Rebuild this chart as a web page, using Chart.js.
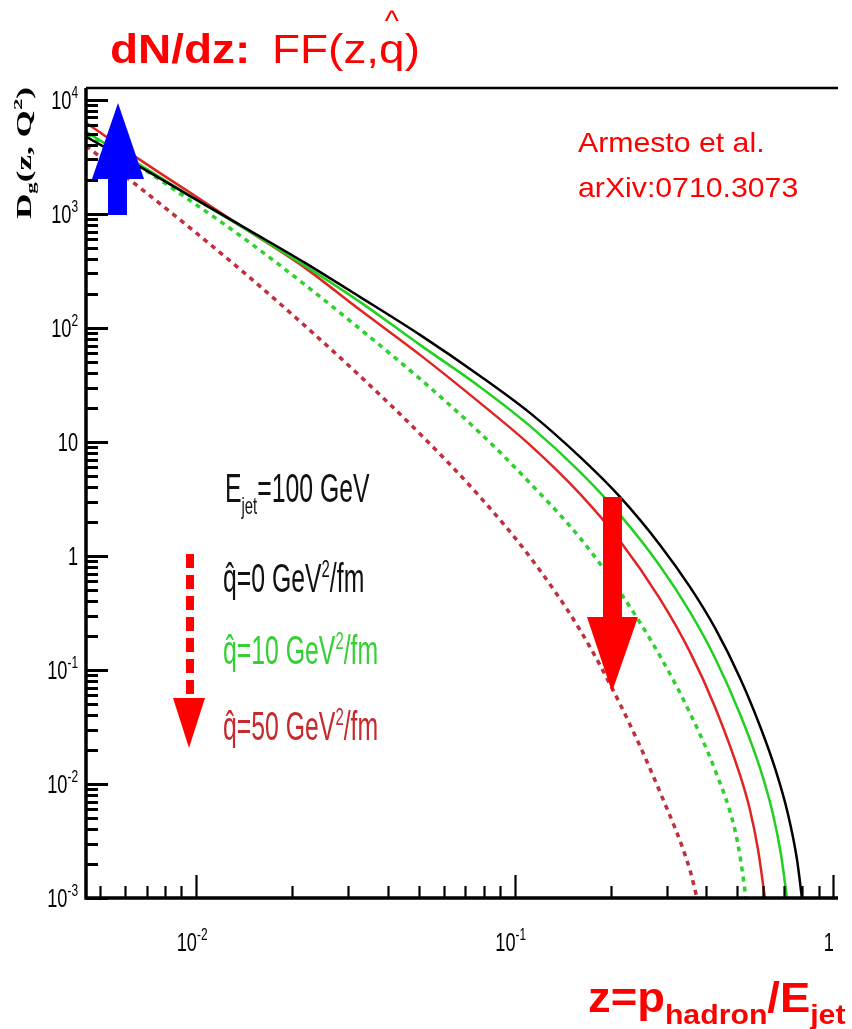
<!DOCTYPE html>
<html>
<head>
<meta charset="utf-8">
<script src="https://cdn.jsdelivr.net/npm/chart.js@4/dist/chart.umd.min.js"></script>
<style>
  html, body { margin: 0; padding: 0; background: #fff; }
  #wrap { width: 852px; height: 1029px; position: relative; }
</style>
</head>
<body>
<div id="wrap"><canvas id="ffChart" width="852" height="1029"></canvas></div>
<script>
// Gluon fragmentation function D_g(z,Q^2), E_jet = 100 GeV, vacuum vs. medium
const zBlack = [0.00452, 0.00668, 0.00993, 0.0148, 0.0220, 0.0327, 0.0505, 0.0779, 0.1117, 0.1604, 0.2142, 0.2859, 0.3550, 0.4255, 0.5097, 0.5888, 0.6561, 0.7208, 0.7691, 0.7975];
const dBlack = [4736, 2584, 1354, 709.6, 371.7, 187.0, 86.8, 37.9, 17.97, 7.386, 3.293, 1.249, 0.5348, 0.2336, 0.08506, 0.03228, 0.01382, 0.005455, 0.002198, 0.001];

const zGreen = [0.00452, 0.00668, 0.00993, 0.0148, 0.0220, 0.0327, 0.0505, 0.0779, 0.1117, 0.1604, 0.2142, 0.2859, 0.3550, 0.4255, 0.5097, 0.5888, 0.6466, 0.6850, 0.7157];
const dGreen = [5240, 2690, 1354, 695, 349.9, 169.1, 70.94, 30.37, 13.81, 5.455, 2.289, 0.8171, 0.3228, 0.1274, 0.04111, 0.01382, 0.005455, 0.002432, 0.001];

const zRed = [0.00452, 0.00668, 0.00993, 0.0148, 0.0220, 0.0327, 0.0505, 0.0779, 0.1117, 0.1604, 0.2142, 0.2859, 0.3550, 0.4255, 0.5097, 0.5479, 0.5803, 0.6104];
const dRed = [6285, 2977, 1439, 695, 336, 143.9, 57.98, 21.98, 9.413, 3.499, 1.354, 0.4196, 0.1439, 0.04735, 0.01200, 0.005913, 0.00269, 0.001];

const zGreenDash = [0.00452, 0.00668, 0.00993, 0.0148, 0.0220, 0.0327, 0.0505, 0.0779, 0.1117, 0.1604, 0.2142, 0.2859, 0.3550, 0.4255, 0.4915, 0.5133, 0.5321];
const dGreenDash = [4932, 2584, 1224, 556.6, 238.4, 97.99, 35.69, 11.99, 4.369, 1.439, 0.4832, 0.1327, 0.04196, 0.01327, 0.003949, 0.002069, 0.001];

const zRedDash = [0.00452, 0.00668, 0.00993, 0.0148, 0.0220, 0.0327, 0.0505, 0.0779, 0.1117, 0.1604, 0.2142, 0.2859, 0.3550, 0.3736];
const dRedDash = [3950, 1691, 695, 274.5, 104.1, 37.9, 11.76, 3.293, 0.9799, 0.2244, 0.05031, 0.008506, 0.00176, 0.001];

// axis decorations
const yMajor = [1e4, 1e3, 1e2, 10, 1, 0.1, 0.01, 0.001];
const yLabelBase = ['10', '10', '10', '10', '1', '10', '10', '10'];
const yLabelExp = ['4', '3', '2', '', '', '-1', '-2', '-3'];
const xMajor = [0.01, 0.1, 1];
const xLabelBase = ['10', '10', '1'];
const xLabelExp = ['-2', '-1', ''];
const minorSteps = [2, 3, 4, 5, 6, 7, 8, 9];

const legendLines = [
  { q: '0', color: '#111111', y: 592 },
  { q: '10', color: '#35d035', y: 664 },
  { q: '50', color: '#c62a2a', y: 740 }
];

const SANS = '"Liberation Sans", Arial, sans-serif';

function toPoints(zs, ds) {
  return zs.map((z, i) => ({ x: z, y: ds[i] }));
}

// draws a run of text pieces [text, size, dy, bold] squeezed horizontally by sx
function richText(ctx, pieces, x, y, sx, color, family) {
  ctx.save();
  ctx.translate(x, y);
  ctx.scale(sx, 1);
  ctx.fillStyle = color;
  ctx.textBaseline = 'alphabetic';
  ctx.textAlign = 'left';
  let cx = 0;
  pieces.forEach(p => {
    ctx.font = (p[3] ? 'bold ' : '') + p[1] + 'px ' + (family || SANS);
    ctx.fillText(p[0], cx, p[2]);
    cx += ctx.measureText(p[0]).width;
  });
  ctx.restore();
  return cx * sx;
}

function richWidth(ctx, pieces, sx, family) {
  let w = 0;
  pieces.forEach(p => {
    ctx.font = (p[3] ? 'bold ' : '') + p[1] + 'px ' + (family || SANS);
    w += ctx.measureText(p[0]).width;
  });
  return w * sx;
}

function qHat(ctx, x, y, size, sx, color) {
  // q with a circumflex set above it
  ctx.save();
  ctx.translate(x, y);
  ctx.scale(sx, 1);
  ctx.fillStyle = color;
  ctx.font = size + 'px ' + SANS;
  const w = ctx.measureText('q').width;
  ctx.fillText('q', 0, 0);
  ctx.textAlign = 'center';
  ctx.fillText('\u02C6', w / 2, 0);
  ctx.restore();
  return w * sx;
}

const framePlugin = {
  id: 'rootFrame',
  afterDatasetsDraw(chart) {
    const ctx = chart.ctx;
    const xs = chart.scales.x, ys = chart.scales.y;
    const a = chart.chartArea;
    ctx.save();
    ctx.strokeStyle = '#000';

    // inward ticks on the left axis
    ctx.lineWidth = 3;
    for (let d = -3; d <= 4; d++) {
      const base = Math.pow(10, d);
      [1].concat(minorSteps).forEach(k => {
        const v = base * k;
        if (v < ys.min || v > ys.max) return;
        const py = Math.round(ys.getPixelForValue(v)) + 0.5;
        const len = k === 1 ? 22 : 12;
        ctx.beginPath();
        ctx.moveTo(a.left, py);
        ctx.lineTo(a.left + len, py);
        ctx.stroke();
      });
    }
    // inward ticks on the bottom axis
    ctx.lineWidth = 2.2;
    for (let d = -3; d <= 0; d++) {
      const base = Math.pow(10, d);
      [1].concat(minorSteps).forEach(k => {
        const v = base * k;
        if (v < xs.min || v > xs.max) return;
        const px = Math.round(xs.getPixelForValue(v)) + 0.5;
        const len = k === 1 ? 23 : 12;
        ctx.beginPath();
        ctx.moveTo(px, a.bottom);
        ctx.lineTo(px, a.bottom - len);
        ctx.stroke();
      });
    }

    // frame: left, bottom and top edges
    ctx.lineWidth = 2.5;
    ctx.beginPath();
    ctx.moveTo(a.left, a.top);
    ctx.lineTo(a.right + 2, a.top);
    ctx.stroke();
    ctx.lineWidth = 3.5;
    ctx.beginPath();
    ctx.moveTo(a.left, a.top);
    ctx.lineTo(a.left, a.bottom);
    ctx.lineTo(a.right + 2, a.bottom);
    ctx.stroke();
    ctx.restore();

    // tick labels
    const sx = 0.7;
    yMajor.forEach((v, i) => {
      const py = ys.getPixelForValue(v);
      const pieces = [[yLabelBase[i], 26, 0, false]];
      if (yLabelExp[i]) pieces.push([yLabelExp[i], 17, -11, false]);
      const w = richWidth(ctx, pieces, sx);
      richText(ctx, pieces, 78 - w, py + 9, sx, '#000');
    });
    xMajor.forEach((v, i) => {
      const px = xs.getPixelForValue(v);
      const pieces = [[xLabelBase[i], 26, 0, false]];
      if (xLabelExp[i]) pieces.push([xLabelExp[i], 17, -11, false]);
      const wb = richWidth(ctx, [pieces[0]], sx);
      richText(ctx, pieces, px - wb * 0.95, 951, sx, '#000');
    });

    // y axis title, rotated
    ctx.save();
    ctx.translate(31, 219);
    ctx.rotate(-Math.PI / 2);
    const titleSerif = '"Liberation Serif", "Times New Roman", serif';
    const yt = [['D', 20, 0, true], ['g', 13, 4, true], ['(z, Q', 20, 0, true], ['2', 13, -9, true], [')', 20, 0, true]];
    const natural = richWidth(ctx, yt, 1, titleSerif);
    richText(ctx, yt, 0, 0, 132 / natural, '#000', titleSerif);
    ctx.restore();
  },
  afterDraw(chart) {
    const ctx = chart.ctx;
    ctx.save();

    // heading
    richText(ctx, [['dN/dz:', 41, 0, true]], 110, 63, 1.12, '#ff0000');
    const fx = 272;
    const w = richText(ctx, [['FF(z,', 41, 0, false]], fx, 63, 1.12, '#ff0000');
    const qw = richText(ctx, [['q', 41, 0, false]], fx + w, 63, 1.12, '#ff0000');
    richText(ctx, [[')', 41, 0, false]], fx + w + qw, 63, 1.12, '#ff0000');
    ctx.fillStyle = '#ff0000';
    ctx.font = '30px ' + SANS;
    ctx.textAlign = 'center';
    ctx.fillText('^', fx + w + qw / 2, 31);
    ctx.textAlign = 'left';

    // reference
    richText(ctx, [['Armesto et al.', 28, 0, false]], 578, 152, 1.08, '#ff0000');
    richText(ctx, [['arXiv:0710.3073', 28, 0, false]], 578, 197, 1.08, '#ff0000');

    // legend text
    const lsx = 0.62;
    richText(ctx, [['E', 40, 0, false], ['jet', 24, 12, false], ['=100 GeV', 40, 0, false]], 225, 502, lsx, '#111111');
    legendLines.forEach(l => {
      const hw = qHat(ctx, 223, l.y, 40, lsx, l.color);
      richText(ctx, [['=' + l.q + ' GeV', 40, 0, false], ['2', 24, -15, false], ['/fm', 40, 0, false]], 223 + hw, l.y, lsx, l.color);
    });

    // x axis caption
    let bx = 588;
    bx += richText(ctx, [['z=p', 42, 0, true]], bx, 1012, 1.08, '#ff0000');
    bx += richText(ctx, [['hadron', 28, 12, true]], bx, 1012, 1.08, '#ff0000');
    bx += richText(ctx, [['/E', 42, 0, true]], bx, 1012, 1.08, '#ff0000');
    richText(ctx, [['jet', 28, 12, true]], bx, 1012, 1.08, '#ff0000');

    // blue arrow near the start of the curves
    ctx.fillStyle = '#0000ff';
    ctx.fillRect(108, 178, 19, 37);
    ctx.beginPath();
    ctx.moveTo(92, 179);
    ctx.lineTo(144, 179);
    ctx.lineTo(118, 103);
    ctx.closePath();
    ctx.fill();

    // red arrow across the high-z curves
    ctx.fillStyle = '#ff0000';
    ctx.fillRect(603, 497, 19, 121);
    ctx.beginPath();
    ctx.moveTo(587, 617);
    ctx.lineTo(638, 617);
    ctx.lineTo(612, 692);
    ctx.closePath();
    ctx.fill();

    // dashed arrow beside the legend
    for (let y = 554; y < 696; y += 21) {
      ctx.fillRect(186, y, 8, Math.min(14, 698 - y));
    }
    ctx.beginPath();
    ctx.moveTo(173, 698);
    ctx.lineTo(205, 698);
    ctx.lineTo(189, 748);
    ctx.closePath();
    ctx.fill();

    ctx.restore();
  }
};

new Chart(document.getElementById('ffChart').getContext('2d'), {
  type: 'line',
  data: {
    datasets: [
      { label: 'q=50 dashed', data: toPoints(zRedDash, dRedDash), borderColor: '#bf2f3c', borderWidth: 3.5, borderDash: [5, 5], order: 5 },
      { label: 'q=10 dashed', data: toPoints(zGreenDash, dGreenDash), borderColor: '#2fd12f', borderWidth: 3.5, borderDash: [5, 5], order: 4 },
      { label: 'q=50', data: toPoints(zRed, dRed), borderColor: '#e02424', borderWidth: 2.5, order: 3 },
      { label: 'q=10', data: toPoints(zGreen, dGreen), borderColor: '#22d022', borderWidth: 2.5, order: 2 },
      { label: 'q=0', data: toPoints(zBlack, dBlack), borderColor: '#000000', borderWidth: 2.5, order: 1 }
    ]
  },
  options: {
    responsive: false,
    animation: false,
    layout: { padding: { left: 86, right: 16, top: 88, bottom: 131 } },
    plugins: { legend: { display: false }, tooltip: { enabled: false } },
    elements: {
      point: { radius: 0 },
      line: { cubicInterpolationMode: 'monotone', fill: false }
    },
    scales: {
      x: { type: 'logarithmic', min: 0.00452, max: 1.02, display: false },
      y: { type: 'logarithmic', min: 0.001, max: 12700, display: false }
    }
  },
  plugins: [framePlugin]
});
</script>
</body>
</html>
